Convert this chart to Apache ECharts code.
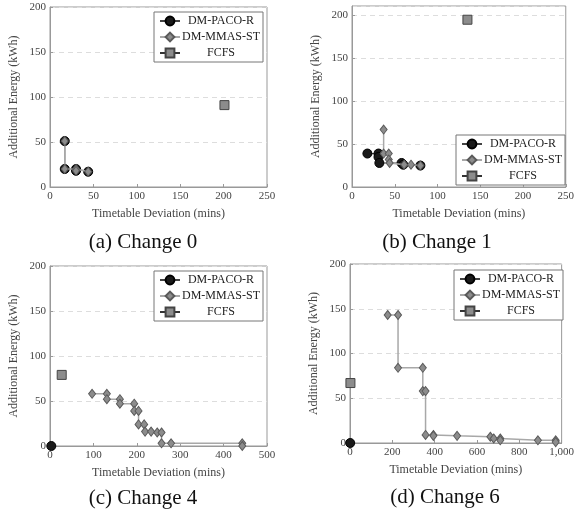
<!DOCTYPE html>
<html>
<head>
<meta charset="utf-8">
<script src="https://cdn.jsdelivr.net/npm/echarts@6/dist/echarts.min.js"></script>
<style>
  html, body { margin: 0; padding: 0; background: #fff; }
  #chart { width: 577px; height: 514px; }
</style>
</head>
<body>
<div id="chart"></div>
<script>
// values: [deviation (mins), energy (kWh)]
const seriesNames = ['DM-PACO-R', 'DM-MMAS-ST', 'FCFS'];
const captions = ['(a) Change 0', '(b) Change 1', '(c) Change 4', '(d) Change 6'];

const pacoA = [[17, 51], [17, 20], [30, 20], [30, 18], [44, 17]];
const mmasA = [[17, 51], [17, 20], [30, 20], [30, 18], [44, 17]];
const fcfsA = [[201, 91]];

const pacoB = [[18, 39], [31, 39], [31, 35], [32, 28], [58, 28], [60, 26], [80, 25]];
const mmasB = [[37, 67], [37, 39], [43, 39], [43, 32], [44, 28], [61, 26], [69, 26], [80, 25]];
const fcfsB = [[135, 195]];

const pacoC = [[3, 0]];
const mmasC = [[97, 58], [131, 58], [131, 52], [161, 52], [161, 47], [194, 47], [194, 39], [204, 39],
  [204, 24], [217, 24], [219, 16], [233, 16], [247, 15], [257, 15], [257, 3], [279, 3], [443, 3], [443, 0]];
const fcfsC = [[27, 79]];

const pacoD = [[1, 0]];
const mmasD = [[178, 143], [227, 143], [227, 84], [344, 84], [344, 58], [357, 58], [357, 9], [394, 9],
  [394, 8], [506, 8], [663, 7], [679, 5], [710, 5], [710, 3], [888, 3], [972, 3], [972, 1]];
const fcfsD = [[2, 67]];

const xMax = [250, 250, 500, 1000];
const xStep = [50, 50, 100, 200];
const yMax = [200, 211, 200, 200];

const chart = echarts.init(document.getElementById('chart'));
const font = 'Liberation Serif';

// plot areas
const grids = [
  { left: 50, top: 7, width: 217, height: 180 },
  { left: 352, top: 6, width: 215, height: 181 },
  { left: 50, top: 266, width: 217, height: 180 },
  { left: 350, top: 264, width: 216, height: 179 }
];
const legendPos = [
  { left: 154, top: 12 },
  { left: 456, top: 135 },
  { left: 154, top: 271 },
  { left: 454, top: 270 }
];
const capPos = [[143, 242], [437, 242], [143, 498], [445, 497]];

const panels = [
  [pacoA, mmasA, fcfsA],
  [pacoB, mmasB, fcfsB],
  [pacoC, mmasC, fcfsC],
  [pacoD, mmasD, fcfsD]
];

function fmtNum(v) {
  return v >= 1000 ? String(v).replace(/\B(?=(\d{3})+(?!\d))/g, ',') : String(v);
}

const xAxis = [], yAxis = [], series = [], legend = [], graphic = [];

grids.forEach((g, i) => {
  g.show = true;
  g.borderColor = '#999';
  g.borderWidth = 1;
  g.backgroundColor = 'transparent';

  xAxis.push({
    type: 'value', gridIndex: i, min: 0, max: xMax[i], interval: xStep[i],
    name: 'Timetable Deviation (mins)', nameLocation: 'middle', nameGap: 21,
    nameTextStyle: { fontFamily: font, fontSize: 12, color: '#444' },
    axisLine: { lineStyle: { color: '#999' } },
    axisTick: { inside: true, length: 3, lineStyle: { color: '#999' } },
    axisLabel: { fontFamily: font, fontSize: 11, color: '#444', margin: 4, formatter: fmtNum },
    splitLine: { show: false }
  });
  yAxis.push({
    type: 'value', gridIndex: i, min: 0, max: yMax[i], interval: 50,
    name: 'Additional Energy (kWh)', nameLocation: 'middle', nameGap: 30,
    nameTextStyle: { fontFamily: font, fontSize: 12, color: '#444' },
    axisLine: { lineStyle: { color: '#999' } },
    axisTick: { inside: true, length: 3, lineStyle: { color: '#999' } },
    axisLabel: { fontFamily: font, fontSize: 11, color: '#444', margin: 4, showMaxLabel: yMax[i] === 200 },
    splitLine: { lineStyle: { color: '#ddd', type: [5, 4] } }
  });

  const [paco, mmas, fcfs] = panels[i];
  series.push({
    name: seriesNames[0], type: 'line', xAxisIndex: i, yAxisIndex: i, data: paco,
    symbol: 'circle', symbolSize: 9, z: 2,
    lineStyle: { color: '#444', width: 1.2 },
    itemStyle: { color: '#1a1a1a', borderColor: '#000', borderWidth: 1 }
  });
  series.push({
    name: seriesNames[1], type: 'line', xAxisIndex: i, yAxisIndex: i, data: mmas,
    symbol: 'diamond', symbolSize: [7, 9], z: 3,
    lineStyle: { color: '#a8a8a8', width: 1.5 },
    itemStyle: { color: '#8c8c8c', borderColor: '#5a5a5a', borderWidth: 1 }
  });
  series.push({
    name: seriesNames[2], type: 'line', xAxisIndex: i, yAxisIndex: i, data: fcfs,
    symbol: 'rect', symbolSize: 9, z: 4,
    lineStyle: { color: '#333', width: 1.2 },
    itemStyle: { color: '#8c8c8c', borderColor: '#444', borderWidth: 1 }
  });

  legend.push({
    data: seriesNames, orient: 'vertical', left: legendPos[i].left, top: legendPos[i].top,
    padding: [3, 3, 3, 5], itemGap: 4, itemWidth: 20, itemHeight: 11,
    backgroundColor: '#fff', borderColor: '#777', borderWidth: 1, borderRadius: 0,
    selectedMode: false,
    formatter: '{c|{name}}',
    textStyle: {
      fontFamily: font, fontSize: 12, color: '#222', padding: [0, 0, 0, -2],
      rich: { c: { width: 76, align: 'center', fontFamily: font, fontSize: 12, color: '#222' } }
    }
  });

  graphic.push({
    type: 'text', x: capPos[i][0], y: capPos[i][1],
    style: {
      text: captions[i], fontFamily: font, fontSize: 21, fill: '#111',
      textAlign: 'center', textVerticalAlign: 'middle'
    }
  });
});

chart.setOption({
  animation: false,
  backgroundColor: '#fff',
  grid: grids,
  xAxis: xAxis,
  yAxis: yAxis,
  legend: legend,
  series: series,
  graphic: graphic
});
</script>
</body>
</html>
